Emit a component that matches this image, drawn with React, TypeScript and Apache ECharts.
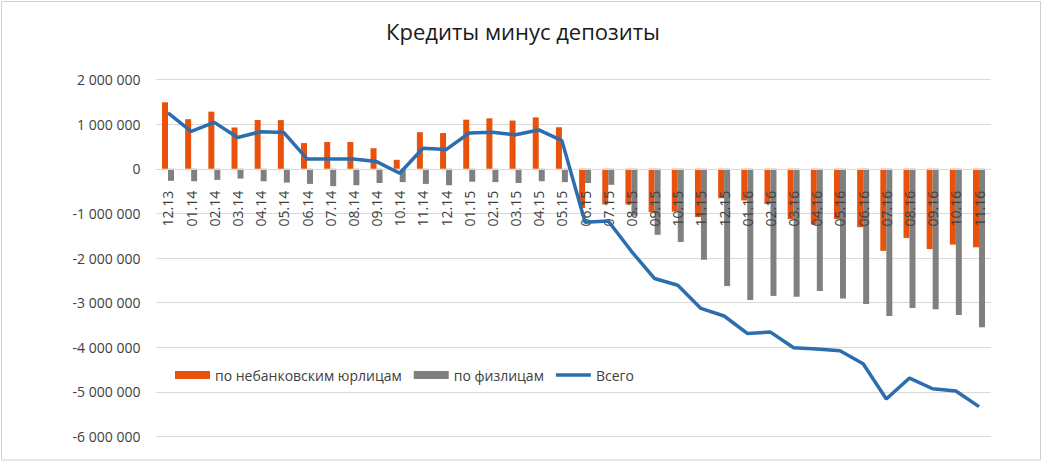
import React, { useEffect, useRef } from "react";
import * as echarts from "echarts";

const categories = [
  "12.13", "01.14", "02.14", "03.14", "04.14", "05.14", "06.14", "07.14", "08.14", "09.14", "10.14", "11.14",
  "12.14", "01.15", "02.15", "03.15", "04.15", "05.15", "06.15", "07.15", "08.15", "09.15", "10.15", "11.15",
  "12.15", "01.16", "02.16", "03.16", "04.16", "05.16", "06.16", "07.16", "08.16", "09.16", "10.16", "11.16",
];

const legalEntities = [
  1490000, 1110000, 1280000, 925000, 1090000, 1090000, 575000, 600000, 600000, 460000, 200000, 820000,
  800000, 1100000, 1130000, 1080000, 1150000, 930000, -880000, -800000, -800000, -970000, -960000, -1080000,
  -660000, -710000, -790000, -1130000, -1250000, -1130000, -1310000, -1840000, -1550000, -1800000, -1700000, -1760000,
];

const individuals = [
  -270000, -280000, -250000, -220000, -280000, -310000, -340000, -390000, -370000, -320000, -300000, -340000,
  -370000, -290000, -300000, -320000, -280000, -300000, -320000, -360000, -1050000, -1480000, -1640000, -2040000,
  -2630000, -2940000, -2850000, -2870000, -2740000, -2910000, -3030000, -3300000, -3120000, -3150000, -3280000, -3550000,
];

const total = [
  1250000, 840000, 1040000, 700000, 830000, 810000, 220000, 220000, 220000, 160000, -100000, 460000,
  430000, 800000, 820000, 760000, 870000, 630000, -1200000, -1170000, -1850000, -2460000, -2610000, -3130000,
  -3300000, -3690000, -3660000, -4010000, -4040000, -4080000, -4370000, -5160000, -4690000, -4930000, -4980000, -5330000,
];

const seriesNames = ["по небанковским юрлицам", "по физлицам", "Всего"];
const title = "Кредиты минус депозиты";

const Y_MIN = -6000000;
const Y_MAX = 2000000;
const Y_STEP = 1000000;

const FONT = "'Open Sans', sans-serif";

const GRID_TOP = 79.5;
const GRID_BOTTOM = 25.5;
const CHART_H = 462;

function fmt(v: number): string {
  const s = Math.abs(v).toString().replace(/\B(?=(\d{3})+(?!\d))/g, " ");
  return (v < 0 ? "-" : "") + s;
}

export default function App() {
  const ref = useRef<HTMLDivElement>(null);
  useEffect(() => {
    if (!ref.current) return;
    const chart = echarts.init(ref.current, null, { renderer: "svg" });
    // offset that moves the category axis from the grid bottom up to the value 0
    const plotH = CHART_H - GRID_TOP - GRID_BOTTOM;
    const zeroOffset = -plotH * ((0 - Y_MIN) / (Y_MAX - Y_MIN));
    chart.setOption({
      animation: false,
      backgroundColor: "#ffffff",
      textStyle: { fontFamily: FONT },
      title: {
        text: title,
        left: "center",
        top: 15,
        textStyle: { fontFamily: FONT, fontSize: 22, fontWeight: "normal", color: "#1a1a1a" },
      },
      legend: {
        left: 170,
        top: 363,
        itemWidth: 35,
        itemHeight: 8,
        itemGap: 12,
        textStyle: { fontFamily: FONT, fontSize: 14, color: "#404040" },
        data: [
          { name: seriesNames[0], icon: "rect" },
          { name: seriesNames[1], icon: "rect" },
          { name: seriesNames[2], icon: "path://M0 0 H35 V3.5 H0 Z" },
        ],
      },
      grid: {
        left: 156.4,
        right: 55.4,
        top: GRID_TOP,
        bottom: GRID_BOTTOM,
        containLabel: false,
        outerBoundsMode: "none",
      },
      xAxis: {
        type: "category",
        data: categories,
        position: "bottom",
        offset: zeroOffset,
        z: 10,
        axisLine: { onZero: false, lineStyle: { color: "#d9d9d9" } },
        axisTick: { show: false },
        axisLabel: {
          rotate: 90,
          interval: 0,
          margin: 22,
          fontFamily: FONT,
          fontSize: 14,
          color: "#404040",
        },
      },
      yAxis: {
        type: "value",
        min: Y_MIN,
        max: Y_MAX,
        interval: Y_STEP,
        axisLine: { show: false },
        axisTick: { show: false },
        splitLine: { lineStyle: { color: "#d9d9d9", width: 1 } },
        axisLabel: {
          margin: 16,
          fontFamily: FONT,
          fontSize: 14,
          color: "#404040",
          formatter: (v: number) => fmt(v),
        },
      },
      series: [
        {
          name: seriesNames[0],
          type: "bar",
          data: legalEntities,
          barWidth: 6,
          barGap: "0%",
          itemStyle: { color: "#E8520C" },
        },
        {
          name: seriesNames[1],
          type: "bar",
          data: individuals,
          barWidth: 6,
          barGap: "0%",
          itemStyle: { color: "#808080" },
        },
        {
          name: seriesNames[2],
          type: "line",
          data: total,
          symbol: "none",
          z: 12,
          lineStyle: { color: "#2B6DAE", width: 3.5 },
          itemStyle: { color: "#2B6DAE" },
        },
      ],
      graphic: [
        {
          type: "rect",
          shape: { x: 1.5, y: 1.5, width: 1039, height: 458.5 },
          style: { fill: "none", stroke: "#d0d0d0", lineWidth: 1 },
          silent: true,
          z: 100,
        },
      ],
    });
    return () => chart.dispose();
  }, []);
  return (
    <div
      ref={ref}
      style={{ position: "absolute", left: 0, top: 0, width: 1046, height: 462 }}
    />
  );
}
